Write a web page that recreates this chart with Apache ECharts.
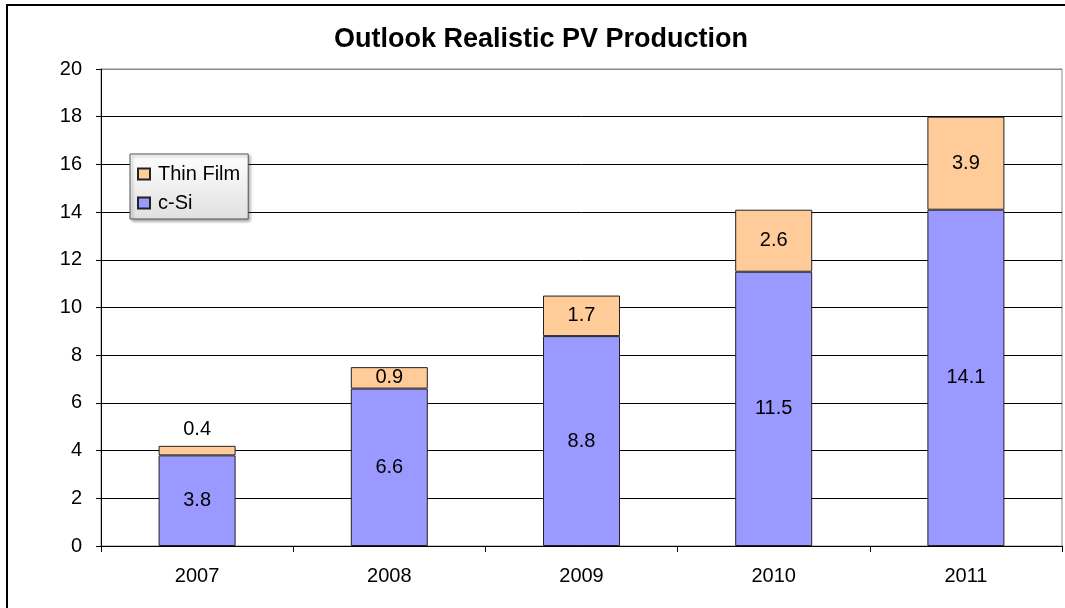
<!DOCTYPE html>
<html>
<head>
<meta charset="utf-8">
<script src="https://cdn.jsdelivr.net/npm/echarts@6/dist/echarts.min.js"></script>
<style>
  html, body { margin: 0; padding: 0; background: #fff; }
  #main { width: 1065px; height: 608px; }
</style>
</head>
<body>
<div id="main"></div>
<script>
// data
var years = ['2007', '2008', '2009', '2010', '2011'];
var cSi = [3.8, 6.6, 8.8, 11.5, 14.1];
var thinFilm = [0.4, 0.9, 1.7, 2.6, 3.9];
var yTicks = [0, 2, 4, 6, 8, 10, 12, 14, 16, 18, 20];

var chart = echarts.init(document.getElementById('main'));

// grid lines black, top one grey like the plot border
var gridColors = yTicks.map(function (v, i) {
  return i === yTicks.length - 1 ? '#888' : '#000';
});

// the tiny 0.4 slice gets its label above the bar
var thinData = thinFilm.map(function (v) {
  if (v < 0.5) {
    return { value: v, label: { position: 'top', distance: 6 } };
  }
  return v;
});

var option = {
  animation: false,
  textStyle: { fontFamily: 'Liberation Sans, Arial, sans-serif' },
  title: {
    text: 'Outlook Realistic PV Production',
    left: 541,
    textAlign: 'center',
    top: 26,
    padding: 0,
    textStyle: { fontSize: 27, fontWeight: 'bold', color: '#000', fontFamily: 'Liberation Sans, Arial, sans-serif' }
  },
  legend: {
    data: ['Thin Film', 'c-Si'],
    orient: 'vertical',
    left: 130,
    top: 154,
    itemWidth: 12,
    itemHeight: 11,
    itemGap: 9,
    padding: [10, 8, 6, 7],
    icon: 'rect',
    borderColor: '#555',
    borderWidth: 1,
    backgroundColor: new echarts.graphic.LinearGradient(0, 0, 0, 1, [
      { offset: 0, color: '#ffffff' },
      { offset: 1, color: '#e0e0e0' }
    ]),
    shadowColor: 'rgba(0,0,0,0.35)',
    shadowBlur: 3,
    shadowOffsetX: 2,
    shadowOffsetY: 2,
    textStyle: { fontSize: 20, color: '#000', padding: [0, 0, 0, 3] }
  },
  grid: {
    left: 101,
    right: 3,
    top: 69,
    bottom: 62,
    show: true,
    borderColor: '#888',
    borderWidth: 1
  },
  xAxis: {
    type: 'category',
    data: years,
    axisLine: { lineStyle: { color: '#000', width: 1 } },
    axisTick: { show: true, length: 6, lineStyle: { color: '#000' } },
    axisLabel: { fontSize: 20, color: '#000', margin: 20 }
  },
  yAxis: {
    type: 'value',
    min: 0,
    max: 20,
    interval: 2,
    axisLine: { show: true, lineStyle: { color: '#000', width: 1 } },
    axisTick: { show: true, length: 5, lineStyle: { color: '#000' } },
    axisLabel: { fontSize: 20, color: '#000', margin: 19 },
    splitLine: { show: true, lineStyle: { color: gridColors, width: 1 } }
  },
  series: [
    {
      name: 'c-Si',
      type: 'bar',
      stack: 'pv',
      barWidth: 77,
      data: cSi,
      itemStyle: { color: '#9999FF', borderColor: '#222', borderWidth: 1 },
      label: { show: true, position: 'inside', fontSize: 20, color: '#000' }
    },
    {
      name: 'Thin Film',
      type: 'bar',
      stack: 'pv',
      barWidth: 77,
      data: thinData,
      itemStyle: { color: '#FFCC99', borderColor: '#222', borderWidth: 1 },
      label: { show: true, position: 'inside', fontSize: 20, color: '#000' }
    }
  ],
  graphic: [
    {
      type: 'rect',
      shape: { x: 7, y: 5, width: 1080, height: 620 },
      style: { fill: 'none', stroke: '#000', lineWidth: 2 },
      silent: true
    }
  ]
};

chart.setOption(option);
</script>
</body>
</html>
